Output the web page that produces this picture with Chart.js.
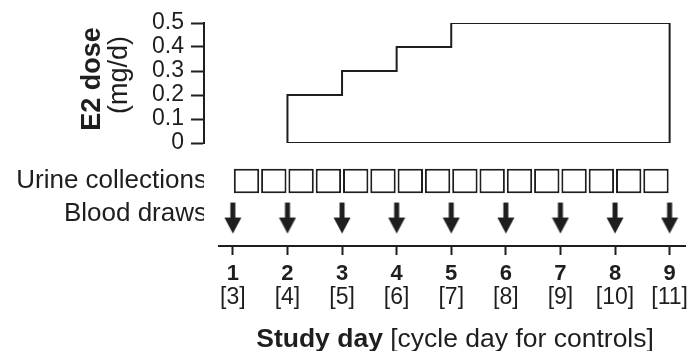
<!DOCTYPE html>
<html>
<head>
<meta charset="utf-8">
<script src="https://cdn.jsdelivr.net/npm/chart.js@4.4.1/dist/chart.umd.min.js"></script>
<style>
  html, body { margin: 0; padding: 0; background: #fff; }
  canvas { display: block; }
</style>
</head>
<body>
<canvas id="e2-chart" width="695" height="351"></canvas>
<script>
// E2 dose schedule (mg/d), each dose held until the next start day
var doseStartDays = [2, 3, 4, 5];
var doseMg = [0.2, 0.3, 0.4, 0.5];
var doseEndDay = 9;
var doseTicks = [0, 0.1, 0.2, 0.3, 0.4, 0.5];

// sampling
var urineStarts = [1, 1.5, 2, 2.5, 3, 3.5, 4, 4.5, 5, 5.5, 6, 6.5, 7, 7.5, 8, 8.5];
var urineEnd = 9;
var bloodDrawDays = [1, 2, 3, 4, 5, 6, 7, 8, 9];

// x axis labels
var studyDays = [1, 2, 3, 4, 5, 6, 7, 8, 9];
var cycleDays = ['[3]', '[4]', '[5]', '[6]', '[7]', '[8]', '[9]', '[10]', '[11]'];
var laneLabels = ['Urine collections', 'Blood draws'];

var INK = '#1e1e1e';
var FONT = "'Liberation Sans', Arial, Helvetica, sans-serif";
var URINE_LANE = 2, BLOOD_LANE = 1;
var X_MIN = 0.4715, X_MAX = 9.3, AXIS_START_DAY = 0.727;

Chart.defaults.font.family = FONT;
Chart.defaults.color = INK;

var dosePoints = [{x: doseStartDays[0], y: 0}];
doseStartDays.forEach(function (d, i) {
  var end = i < doseStartDays.length - 1 ? doseStartDays[i + 1] : doseEndDay;
  dosePoints.push({x: d, y: doseMg[i]});
  dosePoints.push({x: end, y: doseMg[i]});
});
dosePoints.push({x: doseEndDay, y: 0});
dosePoints.push({x: doseStartDays[0], y: 0});

var urineBars = urineStarts.map(function (s, i) {
  var e = i < urineStarts.length - 1 ? urineStarts[i + 1] : urineEnd;
  return {x: (s + e) / 2, y: [URINE_LANE - 0.38, URINE_LANE + 0.38]};
});

var bloodPoints = bloodDrawDays.map(function (d) { return {x: d, y: BLOOD_LANE}; });

// down arrow marker, point sits 10px below the top of the shaft
var arrow = document.createElement('canvas');
arrow.width = 18;
arrow.height = 42;
var ac = arrow.getContext('2d');
ac.fillStyle = INK;
ac.fillRect(6.5, 10, 5, 17);
ac.beginPath();
ac.moveTo(0.5, 25);
ac.lineTo(17.5, 25);
ac.lineTo(9, 41);
ac.closePath();
ac.fill();

function setDays(scale) {
  scale.ticks = studyDays.map(function (v) { return {value: v}; });
}

function richText(c, parts, cx, cy) {
  var widths = parts.map(function (p) { c.font = p.font; return c.measureText(p.text).width; });
  var total = widths.reduce(function (a, b) { return a + b; }, 0);
  var xx = cx - total / 2;
  c.textAlign = 'left';
  c.textBaseline = 'middle';
  parts.forEach(function (p, i) {
    c.font = p.font;
    c.fillText(p.text, xx, cy);
    xx += widths[i];
  });
}

var extras = {
  id: 'extras',
  afterDraw: function (chart) {
    var c = chart.ctx;
    var x = chart.scales.x, y = chart.scales.y, x2 = chart.scales.x2;
    c.save();
    c.strokeStyle = INK;
    c.lineWidth = 2;
    c.beginPath();
    c.moveTo(x.getPixelForValue(AXIS_START_DAY), x.top);
    c.lineTo(x.right, x.top);
    c.stroke();

    c.fillStyle = INK;
    richText(c, [
      {text: 'Study day', font: 'bold 26.5px ' + FONT},
      {text: ' [cycle day for controls]', font: '26.5px ' + FONT}
    ], x.getPixelForValue(5.07), x2.bottom + 28.5);

    var mid = (y.top + y.bottom) / 2 - 4;
    c.textAlign = 'center';
    c.textBaseline = 'middle';
    c.save();
    c.translate(93, mid);
    c.rotate(-Math.PI / 2);
    c.font = 'bold 27px ' + FONT;
    c.fillText('E2 dose', 0, 0);
    c.restore();
    c.save();
    c.translate(120, mid - 4);
    c.rotate(-Math.PI / 2);
    c.font = '27px ' + FONT;
    c.fillText('(mg/d)', 0, 0);
    c.restore();
    c.restore();
  }
};

new Chart(document.getElementById('e2-chart'), {
  type: 'bar',
  data: {
    datasets: [
      {
        type: 'line',
        label: 'E2 dose',
        data: dosePoints,
        xAxisID: 'x',
        yAxisID: 'y',
        borderColor: INK,
        borderWidth: 2,
        borderJoinStyle: 'miter',
        pointRadius: 0,
        fill: false,
        tension: 0
      },
      {
        type: 'bar',
        label: 'Urine collections',
        data: urineBars,
        xAxisID: 'x',
        yAxisID: 'lane',
        backgroundColor: '#fff',
        borderColor: INK,
        borderWidth: 2,
        borderSkipped: false,
        barPercentage: 0.93,
        categoryPercentage: 1
      },
      {
        type: 'scatter',
        label: 'Blood draws',
        data: bloodPoints,
        xAxisID: 'x',
        yAxisID: 'lane',
        pointStyle: arrow,
        pointRadius: 8
      }
    ]
  },
  options: {
    responsive: false,
    animation: false,
    devicePixelRatio: 1,
    layout: {padding: {top: 23, left: 0, right: 5, bottom: 40}},
    plugins: {legend: {display: false}, tooltip: {enabled: false}},
    scales: {
      x: {
        type: 'linear', position: 'bottom', weight: 0,
        min: X_MIN, max: X_MAX, offset: false,
        border: {display: false},
        grid: {drawOnChartArea: false, offset: false, tickLength: 9, tickWidth: 2, tickColor: INK},
        ticks: {font: {size: 22, weight: 'bold'}, color: INK, padding: 6, maxRotation: 0, autoSkip: false,
          callback: function (v) { return String(v); }},
        afterBuildTicks: setDays,
        afterFit: function (s) { s.height = 38; }
      },
      x2: {
        type: 'linear', position: 'bottom', weight: 1,
        min: X_MIN, max: X_MAX, offset: false,
        border: {display: false},
        grid: {display: false, drawTicks: false, offset: false},
        ticks: {font: {size: 23}, color: INK, padding: 0, maxRotation: 0, autoSkip: false,
          callback: function (v, i) { return cycleDays[i]; }},
        afterBuildTicks: setDays,
        afterFit: function (s) { s.height = 27; }
      },
      y: {
        type: 'linear', position: 'left', stack: 'left', stackWeight: 120, weight: 1,
        min: 0, max: 0.5,
        border: {color: INK, width: 2},
        grid: {drawOnChartArea: false, tickLength: 13, tickWidth: 2, tickColor: INK},
        ticks: {font: {size: 23}, color: INK, padding: 7, autoSkip: false,
          callback: function (v) { return v === 0 ? '0' : v.toFixed(1); }},
        afterBuildTicks: function (s) { s.ticks = doseTicks.map(function (v) { return {value: v}; }); },
        afterFit: function (s) { s.width = 204; }
      },
      lane: {
        type: 'linear', position: 'left', stack: 'left', stackWeight: 103, weight: 0,
        min: 0, max: 3.17,
        border: {display: false},
        grid: {display: false, drawTicks: false},
        ticks: {font: {size: 26}, color: INK, padding: -3, autoSkip: false,
          callback: function (v, i) { return laneLabels[i]; }},
        afterBuildTicks: function (s) { s.ticks = [{value: URINE_LANE}, {value: BLOOD_LANE}]; },
        afterFit: function (s) { s.width = 204; }
      }
    }
  },
  plugins: [extras]
});
</script>
</body>
</html>
